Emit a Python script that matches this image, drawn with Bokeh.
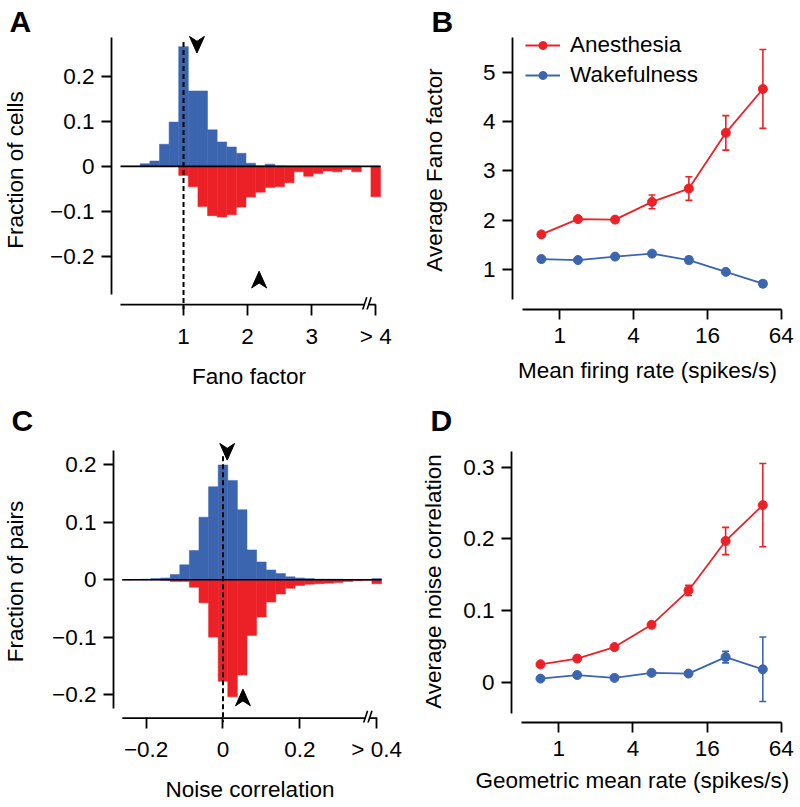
from bokeh.plotting import figure
from bokeh.models import (Range1d, FixedTicker, Whisker, TeeHead, ColumnDataSource,
                          Legend, LegendItem, Title)
from bokeh.layouts import column, row
from bokeh.embed import file_html
from bokeh.resources import INLINE

FONT = "Liberation Sans"
RED = "#EC2127"
BLUE = "#3C65B0"
FS = "22.5px"

# ---------------- Panel A: Fano factor histogram ----------------
fano_centers = [0.10, 0.25, 0.40, 0.55, 0.70, 0.85, 1.00, 1.15, 1.30, 1.45, 1.60, 1.75, 1.90,
                2.05, 2.20, 2.35, 2.50, 2.65, 2.80, 2.95, 3.10, 3.25, 3.40, 3.55, 3.70, 4.00]
fano_wake = [0, 0, 0.006, 0.012, 0.049, 0.098, 0.265, 0.167, 0.167, 0.081, 0.054, 0.043, 0.029,
             0.007, 0.001, 0.005, 0.001, 0, 0, 0, 0, 0, 0, 0, 0, 0]
fano_anes = [0, 0, 0, 0, 0, 0, 0.020, 0.045, 0.089, 0.109, 0.112, 0.107, 0.090,
             0.068, 0.057, 0.047, 0.045, 0.036, 0.012, 0.022, 0.016, 0.010, 0.012, 0.007, 0.012, 0.067]
fano_bin_width = 0.15
fano_xticks = [1, 2, 3, 4]
fano_xtick_labels = ["1", "2", "3", "> 4"]
hist_yticks = [-0.2, -0.1, 0, 0.1, 0.2]
hist_ytick_labels = ["\u22120.2", "\u22120.1", "0", "0.1", "0.2"]
fano_mean_wake = 1.21
fano_mean_anes = 2.18

# ---------------- Panel C: noise correlation histogram ----------------
corr_centers = [-0.250, -0.225, -0.200, -0.175, -0.150, -0.125, -0.100, -0.075, -0.050, -0.025,
                0.000, 0.025, 0.050, 0.075, 0.100, 0.125, 0.150, 0.175, 0.200, 0.225, 0.250,
                0.275, 0.300, 0.325, 0.350, 0.375, 0.400]
corr_wake = [0, 0.0005, 0.001, 0.002, 0.003, 0.009, 0.026, 0.051, 0.109, 0.162,
             0.200, 0.173, 0.122, 0.052, 0.031, 0.017, 0.011, 0.005, 0.003, 0.002,
             0.001, 0.001, 0.001, 0.0005, 0.0005, 0.0005, 0.002]
corr_anes = [0, 0, 0, 0, 0.001, 0.003, 0.003, 0.013, 0.040, 0.100,
             0.177, 0.204, 0.166, 0.097, 0.065, 0.039, 0.025, 0.015, 0.010, 0.008,
             0.007, 0.006, 0.005, 0.003, 0.002, 0.001, 0.007]
corr_bin_width = 0.025
corr_xticks = [-0.2, 0, 0.2, 0.4]
corr_xtick_labels = ["\u22120.2", "0", "0.2", "> 0.4"]
corr_mean_wake = 0.011
corr_mean_anes = 0.052

# ---------------- Panels B and D: rate dependence ----------------
rates = [0.71, 1.41, 2.83, 5.66, 11.3, 22.6, 45.3]
fano_anes_mean = [1.71, 2.02, 2.01, 2.37, 2.64, 3.77, 4.66]
fano_anes_err = [0.03, 0.03, 0.03, 0.14, 0.24, 0.35, 0.80]
fano_wake_mean = [1.21, 1.19, 1.26, 1.32, 1.19, 0.95, 0.71]
fano_wake_err = [0.02, 0.02, 0.02, 0.03, 0.07, 0.03, 0.06]
corr_anes_mean = [0.025, 0.033, 0.049, 0.080, 0.128, 0.197, 0.247]
corr_anes_err = [0.002, 0.002, 0.003, 0.003, 0.007, 0.019, 0.058]
corr_wake_mean = [0.005, 0.010, 0.006, 0.013, 0.012, 0.035, 0.018]
corr_wake_err = [0.002, 0.002, 0.002, 0.002, 0.003, 0.008, 0.045]
rate_ticks = [1, 4, 16, 64]
rate_tick_labels = ["1", "4", "16", "64"]
fano_yticks = [1, 2, 3, 4, 5]
fano_ytick_labels = ["1", "2", "3", "4", "5"]
corr_yticks = [0, 0.1, 0.2, 0.3]
corr_ytick_labels = ["0", "0.1", "0.2", "0.3"]

# arrowhead shape (pixels)
ARROW_W, ARROW_H, ARROW_NOTCH = 15, 17, 5


def make_fig(origin, size, frame, xr, yr, letter, letter_dx, letter_standoff, x_axis_type="linear"):
    ox, oy = origin
    w, h = size
    l, t, r, b = frame
    p = figure(width=w, height=h, x_range=Range1d(*xr), y_range=Range1d(*yr),
               x_axis_type=x_axis_type, output_backend="svg", toolbar_location=None,
               min_border_left=l - ox, min_border_top=t - oy,
               min_border_right=ox + w - r, min_border_bottom=oy + h - b)
    p.grid.visible = False
    p.outline_line_color = None
    p.title = Title(text=letter, align="left", offset=letter_dx, standoff=letter_standoff,
                    text_font=FONT, text_font_size="30px", text_font_style="bold",
                    text_color="black")
    return p


def style_axes(p, xb, yb, xt, xl, yt, yl, xlabel, ylabel, ylab_standoff, ymaj_standoff=7):
    for ax in (p.xaxis[0], p.yaxis[0]):
        ax.axis_line_width = 1.8
        ax.major_tick_line_width = 1.8
        ax.major_tick_out = 10
        ax.major_tick_in = 0
        ax.minor_tick_line_color = None
        ax.minor_tick_out = 0
        ax.minor_tick_in = 0
        ax.major_label_text_font = FONT
        ax.major_label_text_font_size = FS
        ax.major_label_text_color = "black"
        ax.axis_label_text_font = FONT
        ax.axis_label_text_font_size = FS
        ax.axis_label_text_font_style = "normal"
        ax.axis_label_text_color = "black"
    xa, ya = p.xaxis[0], p.yaxis[0]
    xa.bounds = xb
    ya.bounds = yb
    xa.ticker = FixedTicker(ticks=xt)
    xa.major_label_overrides = {t: s for t, s in zip(xt, xl)}
    ya.ticker = FixedTicker(ticks=yt)
    ya.major_label_overrides = {t: s for t, s in zip(yt, yl)}
    xa.major_label_standoff = 8
    ya.major_label_standoff = ymaj_standoff
    if xlabel:
        xa.axis_label = xlabel
        xa.axis_label_standoff = 12
    ya.axis_label = ylabel
    ya.axis_label_standoff = ylab_standoff


def arrowhead(p, x, y_tip, pointing, px_x, px_y):
    # notched ("stealth") arrowhead; pointing = -1 (down) or +1 (up)
    s = -pointing
    hw = ARROW_W / 2 * px_x
    xs = [x, x - hw, x, x + hw]
    ys = [y_tip, y_tip + s * ARROW_H * px_y, y_tip + s * (ARROW_H - ARROW_NOTCH) * px_y,
          y_tip + s * ARROW_H * px_y]
    p.patch(xs, ys, fill_color="black", line_color="black", line_width=1)


def histogram(p, centers, wake, anes, width, xb, ref_x, ref_top, mean_wake, mean_anes,
              wake_tip_y, anes_tip_y, axis_y, break_x, px_x, px_y):
    lefts = [c - width / 2 for c in centers]
    rights = [c + width / 2 for c in centers]
    src = ColumnDataSource(dict(left=lefts, right=rights, wake=wake,
                                anes=[-v for v in anes], zero=[0] * len(centers)))
    p.quad(left="left", right="right", top="zero", bottom="anes", source=src,
           fill_color=RED, line_color=RED, line_width=0.5)
    p.quad(left="left", right="right", top="wake", bottom="zero", source=src,
           fill_color=BLUE, line_color=BLUE, line_width=0.5)
    p.line(x=[xb[0], rights[-1]], y=[0, 0], line_color="black", line_width=1.6)
    p.segment(x0=[ref_x], y0=[ref_top], x1=[ref_x], y1=[p.y_range.start],
              line_color="black", line_width=2, line_dash="5 3")
    arrowhead(p, mean_wake, wake_tip_y, -1, px_x, px_y)
    arrowhead(p, mean_anes, anes_tip_y, +1, px_x, px_y)
    # x axis line drawn with a break (the axis' own line is hidden)
    gap = 2.2 * px_x
    p.segment(x0=[xb[0], break_x + gap], y0=[axis_y, axis_y],
              x1=[break_x - gap, xb[1]], y1=[axis_y, axis_y],
              line_color="black", line_width=1.8)
    for dx in (-gap, gap):
        p.segment(x0=[break_x + dx - 2.0 * px_x], y0=[axis_y - 6.0 * px_y],
                  x1=[break_x + dx + 2.4 * px_x], y1=[axis_y + 7.5 * px_y],
                  line_color="black", line_width=1.6)
    xa = p.xaxis[0]
    xa.axis_line_color = None
    xa.major_tick_in = 5
    xa.major_tick_out = 6


def rate_series(p, means, errs, color):
    src = ColumnDataSource(dict(x=rates, y=means,
                                upper=[m + e for m, e in zip(means, errs)],
                                lower=[m - e for m, e in zip(means, errs)]))
    p.add_layout(Whisker(source=src, base="x", upper="upper", lower="lower",
                         dimension="height", line_color=color, line_width=1.6,
                         upper_head=TeeHead(size=7, line_color=color, line_width=1.6),
                         lower_head=TeeHead(size=7, line_color=color, line_width=1.6)))
    ln = p.line("x", "y", source=src, line_color=color, line_width=1.8)
    pt = p.scatter("x", "y", source=src, size=9, fill_color=color, line_color=color)
    return ln, pt


TOP_H = 396

# ---------- Panel A ----------
pA = make_fig((0, 0), (418, TOP_H), (110, 30, 386, 314), (-0.124, 4.168), (-0.3167, 0.3007),
              "A", -102, -14)
style_axes(pA, (0.016, 4.0), (-0.284, 0.2854), fano_xticks, fano_xtick_labels,
           hist_yticks, hist_ytick_labels, "Fano factor", "Fraction of cells", 19)
histogram(pA, fano_centers, fano_wake, fano_anes, fano_bin_width, (0.016, 4.0), 1.0, 0.275,
          fano_mean_wake, fano_mean_anes, 0.2507, -0.232, -0.3059, 3.857, 1 / 64.3, 1 / 460)

# ---------- Panel B ----------
pB = make_fig((418, 0), (382, TOP_H), (509, 30, 782, 309), (0.4128, 65.45), (0.1866, 5.846),
              "B", -81, -14, x_axis_type="log")
rB1, cB1 = rate_series(pB, fano_anes_mean, fano_anes_err, RED)
rB2, cB2 = rate_series(pB, fano_wake_mean, fano_wake_err, BLUE)
style_axes(pB, (0.5, 64), (0.389, 5.698), rate_ticks, rate_tick_labels,
           fano_yticks, fano_ytick_labels, "Mean firing rate (spikes/s)", "Average Fano factor", 33)
leg = Legend(items=[LegendItem(label="Anesthesia", renderers=[rB1, cB1]),
                    LegendItem(label="Wakefulness", renderers=[rB2, cB2])],
             location=(13, 221), margin=0, padding=0, spacing=4,
             glyph_width=35, glyph_height=20, label_standoff=10,
             label_text_font=FONT, label_text_font_size=FS, label_text_color="black",
             border_line_color=None, background_fill_alpha=0)
pB.add_layout(leg)

# ---------- Panel C ----------
pC = make_fig((0, TOP_H), (418, 807 - TOP_H), (110, 440, 386, 727), (-0.2849, 0.4255),
              (-0.2488, 0.2426), "C", -102, 7.5)
style_axes(pC, (-0.262, 0.4), (-0.2248, 0.2255), corr_xticks, corr_xtick_labels,
           hist_yticks, hist_ytick_labels, "Noise correlation", "Fraction of pairs", 21)
histogram(pC, corr_centers, corr_wake, corr_anes, corr_bin_width, (-0.262, 0.4), 0.0, 0.215,
          corr_mean_wake, corr_mean_anes, 0.2084, -0.1906, -0.2411, 0.3758, 1 / 388.5, 1 / 584)

# ---------- Panel D ----------
pD = make_fig((418, TOP_H), (382, 807 - TOP_H), (509, 440, 782, 722), (0.4128, 65.45),
              (-0.0562, 0.3371), "D", -81, 7.5, x_axis_type="log")
rate_series(pD, corr_anes_mean, corr_anes_err, RED)
rate_series(pD, corr_wake_mean, corr_wake_err, BLUE)
style_axes(pD, (0.5, 64), (-0.0441, 0.3222), rate_ticks, rate_tick_labels,
           corr_yticks, corr_ytick_labels, "", "Average noise correlation", 14)
pD.add_layout(Title(text="Geometric mean rate (spikes/s)", align="left", offset=-36,
                    standoff=14, text_font=FONT, text_font_size=FS, text_font_style="normal",
                    text_color="black"), "below")

layout = column(row(pA, pB), row(pC, pD))
open("out.html", "w").write(file_html(layout, INLINE))
